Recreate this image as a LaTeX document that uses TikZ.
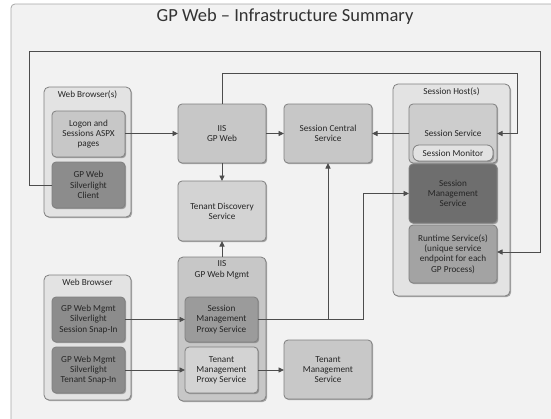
\documentclass[tikz,border=0pt]{standalone}
\usepackage{fontspec}
\setmainfont{Carlito}
\usetikzlibrary{arrows.meta,shadows}
\definecolor{framebg}{HTML}{F2F2F2}
\definecolor{frameline}{HTML}{A6A6A6}
\definecolor{contfill}{HTML}{E3E3E3}
\definecolor{bordergray}{HTML}{7F7F7F}
\definecolor{linegray}{HTML}{4D4D4D}
\definecolor{textgray}{HTML}{262626}
\definecolor{cA}{HTML}{C7C7C7}
\definecolor{cDark}{HTML}{8C8C8C}
\definecolor{cDarker}{HTML}{6E6E6E}
\definecolor{cMid}{HTML}{A3A3A3}
\definecolor{cLight}{HTML}{D3D3D3}
\definecolor{cMon}{HTML}{E2E2E2}
\definecolor{cProxy}{HTML}{9B9B9B}
\begin{document}
\begin{tikzpicture}[x=1pt,y=-1pt,
  every node/.style={inner sep=0pt,outer sep=0pt},
  shadowed/.style={drop shadow={shadow xshift=1.2pt,shadow yshift=-1.2pt,fill=black!55,opacity=.6}},
  box/.style={draw=bordergray,line width=0.8pt,rounded corners=4pt,align=center,
    font=\fontsize{9.2}{10.2}\selectfont,text=textgray,shadowed},
  cont/.style={draw=bordergray,line width=0.8pt,rounded corners=5pt,fill=contfill,shadowed},
  conttitle/.style={font=\fontsize{9.2}{10.2}\selectfont,text=textgray,anchor=north,align=center},
  conn/.style={draw=linegray,line width=0.9pt},
  arr/.style={conn,-{Triangle[length=5.5pt,width=5pt]}}
]
\useasboundingbox (0,0) rectangle (551,418);
% frame
\node[draw=frameline,fill=framebg,rounded corners=4pt,line width=0.8pt,
  minimum width=560pt,minimum height=420pt,anchor=north west] (frame) at (11,4) {};
\node[font=\fontsize{18.5}{22}\selectfont,text=black!80] (title) at (285,17) {GP Web -- Infrastructure Summary};

% containers
\node[cont,minimum width=87pt,minimum height=130pt] (wb1) at (87.5,152) {};
\node[conttitle] (wb1t) at (87.5,91) {Web Browser(s)};
\node[cont,minimum width=117pt,minimum height=212pt] (host) at (451.5,190) {};
\node[conttitle] (hostt) at (451.5,88) {Session Host(s)};
\node[cont,minimum width=87pt,minimum height=125pt] (wb2) at (87.5,337.5) {};
\node[conttitle] (wb2t) at (87.5,279) {Web Browser};
\node[cont,fill=cA,minimum width=88pt,minimum height=144pt] (iism) at (222,329) {};
\node[conttitle] (iismt) at (222,261) {IIS\\GP Web Mgmt};

% boxes
\node[box,fill=cA,minimum width=73pt,minimum height=46pt] (logon) at (88.5,134) {Logon and\\Sessions ASPX\\pages};
\node[box,fill=cDark,minimum width=73pt,minimum height=46pt] (slc) at (88.5,185) {GP Web\\Silverlight\\Client};
\node[box,fill=cA,minimum width=88pt,minimum height=59pt] (iis) at (222,133.5) {IIS\\GP Web};
\node[box,fill=cLight,minimum width=88pt,minimum height=60pt] (tds) at (222,211) {Tenant Discovery\\Service};
\node[box,fill=cA,minimum width=88pt,minimum height=59pt] (scs) at (328,133.5) {Session Central\\Service};
\node[box,fill=cA!90!white,minimum width=88pt,minimum height=59pt] (ss) at (453,133.5) {Session Service};
\node[box,fill=cMon,rounded corners=6pt,minimum width=80pt,minimum height=16pt] (smon) at (453,153) {Session Monitor};
\node[box,fill=cDarker,minimum width=88pt,minimum height=59pt] (sms) at (453,193.5) {Session\\Management\\Service};
\node[box,fill=cMid,minimum width=88pt,minimum height=58pt] (rts) at (453,254) {Runtime Service(s)\\(unique service\\endpoint for each\\GP Process)};
\node[box,fill=cDark,minimum width=73pt,minimum height=45pt] (snap1) at (88.5,319.5) {GP Web Mgmt\\Silverlight\\Session Snap-In};
\node[box,fill=cDark,minimum width=73pt,minimum height=46pt] (snap2) at (88.5,370) {GP Web Mgmt\\Silverlight\\Tenant Snap-In};
\node[box,fill=cProxy,minimum width=73pt,minimum height=45pt] (smp) at (221.5,319.5) {Session\\Management\\Proxy Service};
\node[box,fill=cLight,minimum width=73pt,minimum height=46pt] (tmp) at (221.5,370) {Tenant\\Management\\Proxy Service};
\node[box,fill=cLight!95!black,minimum width=88pt,minimum height=59pt] (tms) at (328,369.5) {Tenant\\Management\\Service};

% coordinates
\coordinate (o1) at (29,51);
\coordinate (o2) at (540,51);
\coordinate (i1) at (222,73);
\coordinate (i2) at (517,73);
\coordinate (j1) at (328,319.5);
\coordinate (j2) at (363,319.5);

% connectors
\draw[arr] (logon.east |- iis.west) -- (iis.west);
\draw[arr] (iis.east) -- (scs.west);
\draw[arr] (ss.west) -- (scs.east);
\draw[arr] (iis.south) -- (tds.north);
\draw[arr] (iism.north) -- (tds.south);
\draw[arr] (slc.west) -| (o1) -- (o2) |- ([yshift=2pt]rts.east);
\draw[arr] (iis.north) -- (i1) -- (i2) |- (ss.east);
\draw[arr] (smp.east) -- (j2) |- (sms.west);
\draw[arr] (j1) -- (scs.south);
\draw[arr] (snap1.east) -- (smp.west);
\draw[arr] (snap2.east) -- (tmp.west);
\draw[arr] (tmp.east) -- (tmp.east -| tms.west);
\end{tikzpicture}
\end{document}
